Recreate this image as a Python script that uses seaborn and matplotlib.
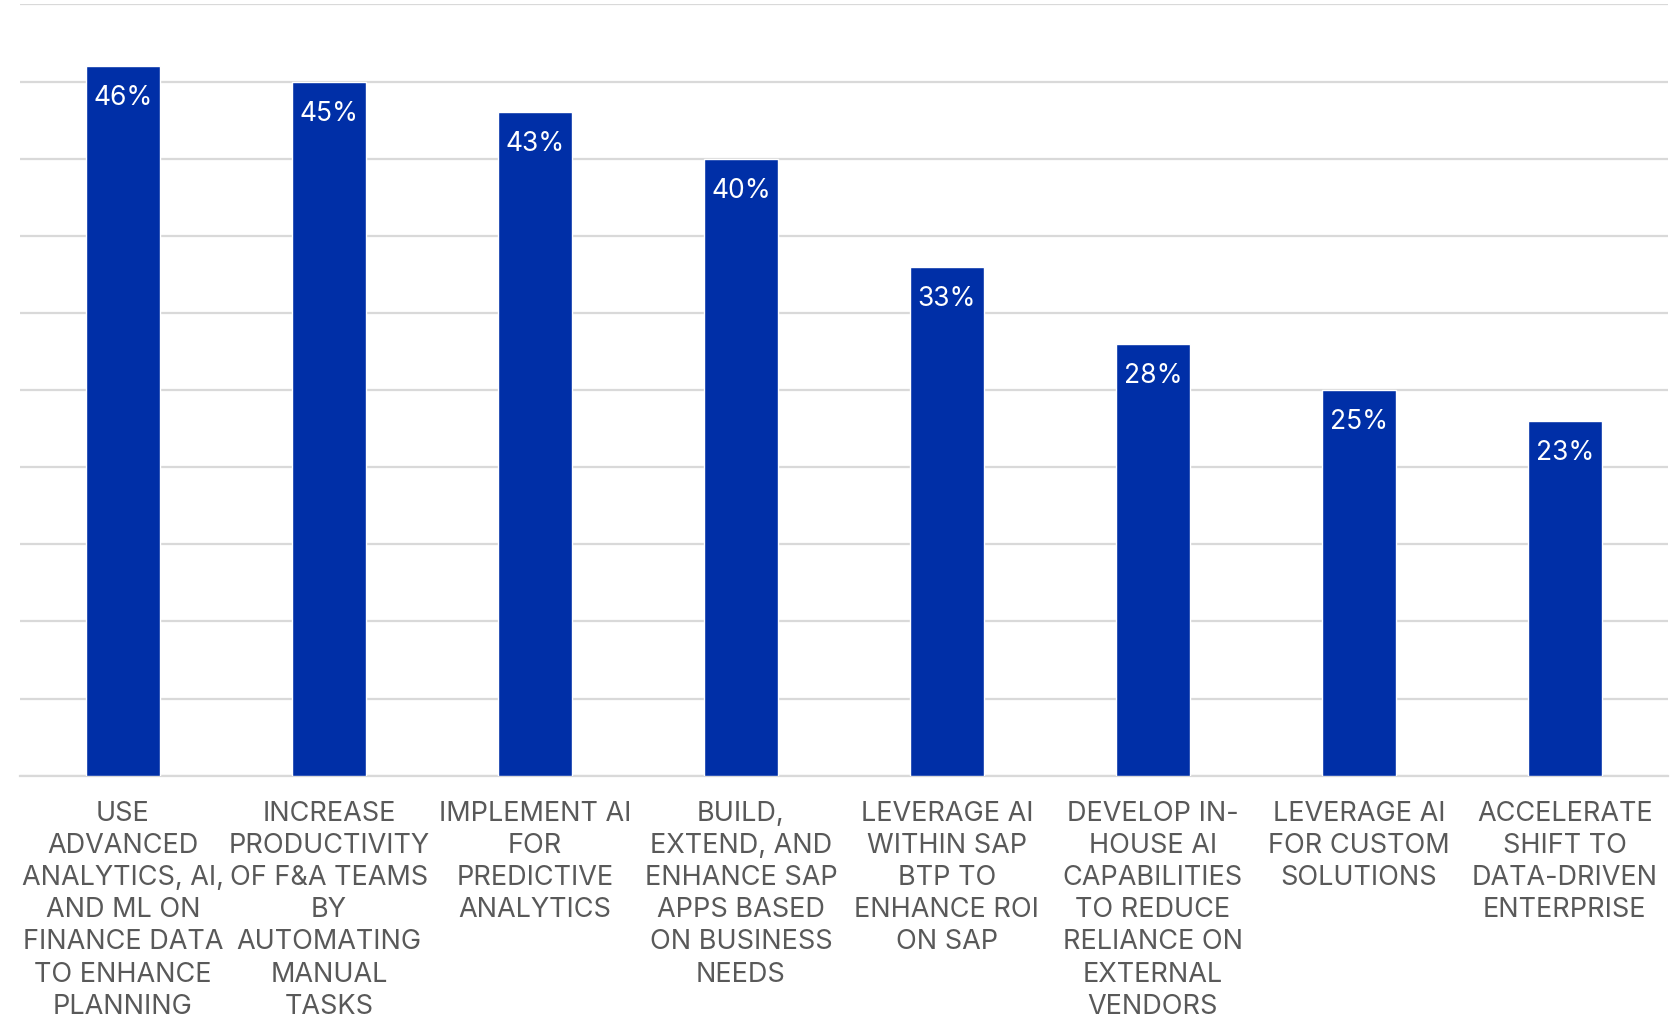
import matplotlib
matplotlib.use("Agg")
import matplotlib.pyplot as plt
import seaborn as sns
import pandas as pd

categories = [
    "USE\nADVANCED\nANALYTICS, AI,\nAND ML ON\nFINANCE DATA\nTO ENHANCE\nPLANNING",
    "INCREASE\nPRODUCTIVITY\nOF F&A TEAMS\nBY\nAUTOMATING\nMANUAL\nTASKS",
    "IMPLEMENT AI\nFOR\nPREDICTIVE\nANALYTICS",
    "BUILD,\nEXTEND, AND\nENHANCE SAP\nAPPS BASED\nON BUSINESS\nNEEDS",
    "LEVERAGE AI\nWITHIN SAP\nBTP TO\nENHANCE ROI\nON SAP",
    "DEVELOP IN-\nHOUSE AI\nCAPABILITIES\nTO REDUCE\nRELIANCE ON\nEXTERNAL\nVENDORS",
    "LEVERAGE AI\nFOR CUSTOM\nSOLUTIONS",
    "ACCELERATE\nSHIFT TO\nDATA-DRIVEN\nENTERPRISE",
]
values = [0.46, 0.45, 0.43, 0.40, 0.33, 0.28, 0.25, 0.23]
value_labels = ["46%", "45%", "43%", "40%", "33%", "28%", "25%", "23%"]

df = pd.DataFrame({"category": categories, "value": values})

sns.set_theme(style="white")
plt.rcParams['font.family'] = ['Inter', 'DejaVu Sans']

fig = plt.figure(figsize=(16.78, 10.17), dpi=100)
ax = fig.add_axes([0.0119, 0.2373, 0.982, 0.7583])

bar_color = "#002FA7"
sns.barplot(data=df, x="category", y="value", color=bar_color, width=0.36,
            saturation=1, ax=ax, zorder=3)

ax.set_ylim(0, 0.5)
ax.set_yticks([i * 0.05 for i in range(11)])
ax.set_yticklabels([])
ax.tick_params(axis="y", length=0)
ax.tick_params(axis="x", length=0, pad=18)
ax.yaxis.grid(True, color="#D9D9D9", linewidth=1.6, zorder=0)
ax.set_axisbelow(True)
for s in ["top", "right", "left"]:
    ax.spines[s].set_visible(False)
ax.spines["bottom"].set_color("#D9D9D9")
ax.spines["bottom"].set_linewidth(1.6)
ax.set_xlabel("")
ax.set_ylabel("")
ax.set_xlim(-0.5, len(categories) - 0.5)

for lbl in ax.get_xticklabels():
    lbl.set_fontsize(19.5)
    lbl.set_color("#595959")
    lbl.set_linespacing(1.31)
    lbl.set_verticalalignment("top")

for patch, txt in zip(ax.patches, value_labels):
    x = patch.get_x() + patch.get_width() / 2
    y = patch.get_height()
    ax.annotate(txt, (x, y), xytext=(0, -23), textcoords="offset points",
                ha="center", va="center", color="white", fontsize=19)

fig.savefig("out.png", dpi=100)
